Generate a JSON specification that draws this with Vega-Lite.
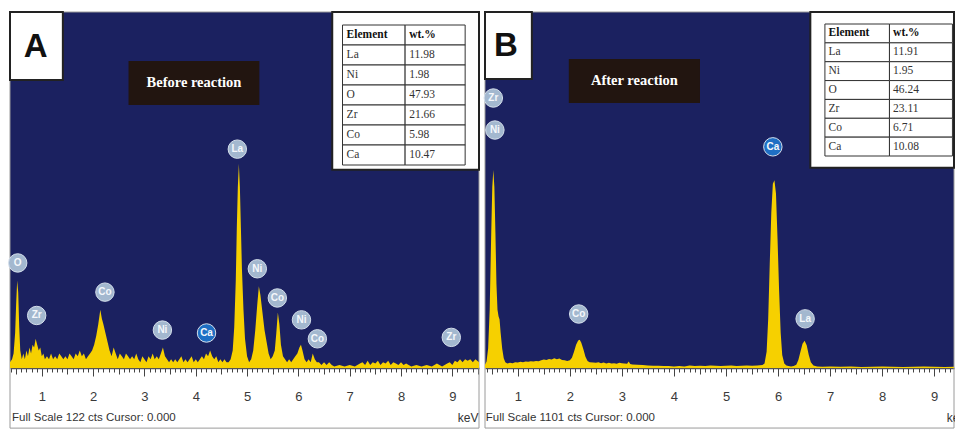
{
  "$schema": "https://vega.github.io/schema/vega-lite/v6.json",
  "autosize": {"type": "pad"},
  "padding": {"left": 6, "top": 11, "right": 0, "bottom": 0},
  "background": "white",
  "spacing": 6,
  "bounds": "flush",
  "config": {
    "view": {"stroke": null, "fill": "#1b2160"},
    "axisY": {"disable": true}
  },
  "datasets": {
    "specA": [
      {"kev":0.38,"cts":2},{"kev":0.42,"cts":3},{"kev":0.45,"cts":5},{"kev":0.48,"cts":12},{"kev":0.50,"cts":22},{"kev":0.52,"cts":30},{"kev":0.54,"cts":26},{"kev":0.56,"cts":14},{"kev":0.58,"cts":6},{"kev":0.61,"cts":3},{"kev":0.64,"cts":5},{"kev":0.67,"cts":3},{"kev":0.70,"cts":6},{"kev":0.73,"cts":4},{"kev":0.76,"cts":7},{"kev":0.79,"cts":5},{"kev":0.82,"cts":8},{"kev":0.85,"cts":7},{"kev":0.88,"cts":10},{"kev":0.91,"cts":8},{"kev":0.94,"cts":6},{"kev":0.97,"cts":7},
      {"kev":1.00,"cts":4},{"kev":1.03,"cts":5},{"kev":1.06,"cts":3},{"kev":1.10,"cts":4},{"kev":1.14,"cts":3},{"kev":1.18,"cts":5},{"kev":1.22,"cts":3},{"kev":1.26,"cts":4},{"kev":1.30,"cts":3},{"kev":1.34,"cts":5},{"kev":1.38,"cts":4},{"kev":1.42,"cts":3},{"kev":1.46,"cts":4},{"kev":1.50,"cts":3},{"kev":1.54,"cts":5},{"kev":1.58,"cts":4},{"kev":1.62,"cts":3},{"kev":1.66,"cts":5},{"kev":1.70,"cts":4},{"kev":1.74,"cts":6},{"kev":1.78,"cts":4},{"kev":1.82,"cts":5},{"kev":1.86,"cts":3},{"kev":1.90,"cts":4},{"kev":1.94,"cts":5},{"kev":1.98,"cts":6},
      {"kev":2.02,"cts":8},{"kev":2.06,"cts":11},{"kev":2.10,"cts":15},{"kev":2.14,"cts":20},{"kev":2.17,"cts":17},{"kev":2.20,"cts":15},{"kev":2.24,"cts":12},{"kev":2.28,"cts":9},{"kev":2.32,"cts":6},{"kev":2.36,"cts":4},{"kev":2.40,"cts":7},{"kev":2.44,"cts":5},{"kev":2.48,"cts":3},{"kev":2.52,"cts":5},{"kev":2.56,"cts":4},{"kev":2.60,"cts":3},{"kev":2.64,"cts":5},{"kev":2.68,"cts":4},{"kev":2.72,"cts":3},{"kev":2.76,"cts":4},{"kev":2.80,"cts":3},{"kev":2.84,"cts":5},{"kev":2.88,"cts":3},{"kev":2.92,"cts":2},{"kev":2.96,"cts":4},
      {"kev":3.00,"cts":3},{"kev":3.04,"cts":2},{"kev":3.08,"cts":4},{"kev":3.12,"cts":3},{"kev":3.16,"cts":5},{"kev":3.20,"cts":3},{"kev":3.24,"cts":4},{"kev":3.28,"cts":3},{"kev":3.32,"cts":5},{"kev":3.36,"cts":7},{"kev":3.40,"cts":4},{"kev":3.44,"cts":3},{"kev":3.48,"cts":2},{"kev":3.52,"cts":3},{"kev":3.56,"cts":2},{"kev":3.60,"cts":3},{"kev":3.64,"cts":2},{"kev":3.68,"cts":3},{"kev":3.72,"cts":4},{"kev":3.76,"cts":2},{"kev":3.80,"cts":3},{"kev":3.84,"cts":2},{"kev":3.88,"cts":3},{"kev":3.92,"cts":4},{"kev":3.96,"cts":2},
      {"kev":4.00,"cts":3},{"kev":4.04,"cts":2},{"kev":4.08,"cts":3},{"kev":4.12,"cts":4},{"kev":4.16,"cts":3},{"kev":4.20,"cts":5},{"kev":4.24,"cts":4},{"kev":4.28,"cts":6},{"kev":4.32,"cts":4},{"kev":4.36,"cts":3},{"kev":4.40,"cts":4},{"kev":4.44,"cts":2},{"kev":4.48,"cts":3},{"kev":4.52,"cts":2},{"kev":4.56,"cts":3},{"kev":4.60,"cts":2},{"kev":4.64,"cts":2},{"kev":4.68,"cts":3},{"kev":4.72,"cts":6},{"kev":4.75,"cts":14},{"kev":4.78,"cts":30},{"kev":4.80,"cts":48},{"kev":4.82,"cts":62},{"kev":4.84,"cts":70},{"kev":4.86,"cts":62},{"kev":4.88,"cts":48},{"kev":4.90,"cts":34},{"kev":4.93,"cts":20},{"kev":4.96,"cts":10},
      {"kev":5.00,"cts":4},{"kev":5.04,"cts":2},{"kev":5.08,"cts":3},{"kev":5.12,"cts":6},{"kev":5.16,"cts":13},{"kev":5.20,"cts":22},{"kev":5.23,"cts":28},{"kev":5.26,"cts":25},{"kev":5.30,"cts":19},{"kev":5.34,"cts":13},{"kev":5.38,"cts":9},{"kev":5.42,"cts":5},{"kev":5.46,"cts":3},{"kev":5.50,"cts":4},{"kev":5.54,"cts":6},{"kev":5.57,"cts":12},{"kev":5.60,"cts":19},{"kev":5.63,"cts":15},{"kev":5.66,"cts":8},{"kev":5.70,"cts":4},{"kev":5.74,"cts":3},{"kev":5.78,"cts":2},{"kev":5.82,"cts":3},{"kev":5.86,"cts":2},{"kev":5.90,"cts":3},{"kev":5.94,"cts":4},{"kev":5.98,"cts":5},
      {"kev":6.02,"cts":7},{"kev":6.05,"cts":8},{"kev":6.08,"cts":6},{"kev":6.12,"cts":3},{"kev":6.16,"cts":2},{"kev":6.20,"cts":3},{"kev":6.24,"cts":2},{"kev":6.28,"cts":5},{"kev":6.32,"cts":3},{"kev":6.36,"cts":2},{"kev":6.40,"cts":2},{"kev":6.45,"cts":1},{"kev":6.50,"cts":2},{"kev":6.55,"cts":1},{"kev":6.60,"cts":2},{"kev":6.65,"cts":1},{"kev":6.70,"cts":0.5},{"kev":6.80,"cts":1},{"kev":6.90,"cts":0.5},
      {"kev":7.00,"cts":1},{"kev":7.10,"cts":0.5},{"kev":7.20,"cts":1.5},{"kev":7.25,"cts":2},{"kev":7.30,"cts":1},{"kev":7.35,"cts":2.5},{"kev":7.40,"cts":1},{"kev":7.45,"cts":2},{"kev":7.50,"cts":1.5},{"kev":7.55,"cts":2.5},{"kev":7.60,"cts":1},{"kev":7.65,"cts":2},{"kev":7.70,"cts":1.5},{"kev":7.75,"cts":2.5},{"kev":7.80,"cts":1},{"kev":7.85,"cts":2},{"kev":7.90,"cts":1.5},{"kev":7.95,"cts":1},
      {"kev":8.00,"cts":2},{"kev":8.05,"cts":1},{"kev":8.10,"cts":1.5},{"kev":8.15,"cts":1},{"kev":8.20,"cts":0.5},{"kev":8.30,"cts":1},{"kev":8.40,"cts":0.5},{"kev":8.50,"cts":1},{"kev":8.60,"cts":0.5},{"kev":8.70,"cts":1.5},{"kev":8.80,"cts":0.5},{"kev":8.90,"cts":1.5},{"kev":8.95,"cts":2},
      {"kev":9.00,"cts":1},{"kev":9.05,"cts":2.5},{"kev":9.10,"cts":2},{"kev":9.15,"cts":3},{"kev":9.20,"cts":2},{"kev":9.25,"cts":3},{"kev":9.30,"cts":2.5},{"kev":9.35,"cts":3},{"kev":9.40,"cts":2},{"kev":9.45,"cts":3},{"kev":9.52,"cts":2}
    ],
    "specB": [
      {"kev":0.37,"cts":10},{"kev":0.40,"cts":20},{"kev":0.43,"cts":60},{"kev":0.46,"cts":180},{"kev":0.49,"cts":420},{"kev":0.51,"cts":560},{"kev":0.53,"cts":612},{"kev":0.55,"cts":560},{"kev":0.57,"cts":420},{"kev":0.59,"cts":260},{"kev":0.61,"cts":180},{"kev":0.63,"cts":160},{"kev":0.65,"cts":150},{"kev":0.67,"cts":110},{"kev":0.70,"cts":60},{"kev":0.73,"cts":30},{"kev":0.76,"cts":18},{"kev":0.80,"cts":14},{"kev":0.85,"cts":16},{"kev":0.90,"cts":15},{"kev":0.95,"cts":18},
      {"kev":1.00,"cts":17},{"kev":1.05,"cts":19},{"kev":1.10,"cts":18},{"kev":1.15,"cts":20},{"kev":1.20,"cts":19},{"kev":1.25,"cts":21},{"kev":1.30,"cts":20},{"kev":1.35,"cts":22},{"kev":1.40,"cts":21},{"kev":1.45,"cts":24},{"kev":1.50,"cts":26},{"kev":1.55,"cts":25},{"kev":1.60,"cts":28},{"kev":1.65,"cts":26},{"kev":1.70,"cts":30},{"kev":1.75,"cts":27},{"kev":1.80,"cts":29},{"kev":1.85,"cts":25},{"kev":1.90,"cts":24},{"kev":1.95,"cts":22},
      {"kev":2.00,"cts":24},{"kev":2.04,"cts":32},{"kev":2.08,"cts":50},{"kev":2.12,"cts":72},{"kev":2.16,"cts":85},{"kev":2.19,"cts":87},{"kev":2.22,"cts":78},{"kev":2.26,"cts":58},{"kev":2.30,"cts":35},{"kev":2.34,"cts":22},{"kev":2.38,"cts":18},{"kev":2.45,"cts":17},{"kev":2.50,"cts":16},{"kev":2.55,"cts":18},{"kev":2.60,"cts":15},{"kev":2.65,"cts":17},{"kev":2.70,"cts":14},{"kev":2.75,"cts":16},{"kev":2.80,"cts":14},{"kev":2.85,"cts":15},{"kev":2.90,"cts":13},{"kev":2.95,"cts":16},
      {"kev":3.00,"cts":15},{"kev":3.05,"cts":14},{"kev":3.10,"cts":13},{"kev":3.13,"cts":20},{"kev":3.16,"cts":12},{"kev":3.20,"cts":11},{"kev":3.30,"cts":10},{"kev":3.40,"cts":9},{"kev":3.50,"cts":8},{"kev":3.60,"cts":7},{"kev":3.70,"cts":7},{"kev":3.80,"cts":6},{"kev":3.90,"cts":6},
      {"kev":4.00,"cts":5},{"kev":4.10,"cts":6},{"kev":4.20,"cts":5},{"kev":4.30,"cts":8},{"kev":4.40,"cts":6},{"kev":4.50,"cts":7},{"kev":4.60,"cts":6},{"kev":4.70,"cts":8},{"kev":4.80,"cts":7},{"kev":4.90,"cts":6},
      {"kev":5.00,"cts":7},{"kev":5.10,"cts":8},{"kev":5.20,"cts":6},{"kev":5.30,"cts":7},{"kev":5.40,"cts":8},{"kev":5.50,"cts":7},{"kev":5.60,"cts":8},{"kev":5.70,"cts":9},{"kev":5.74,"cts":14},{"kev":5.78,"cts":50},{"kev":5.81,"cts":150},{"kev":5.84,"cts":320},{"kev":5.87,"cts":480},{"kev":5.90,"cts":570},{"kev":5.93,"cts":581},{"kev":5.96,"cts":540},{"kev":5.99,"cts":400},
      {"kev":6.02,"cts":240},{"kev":6.05,"cts":110},{"kev":6.08,"cts":40},{"kev":6.12,"cts":14},{"kev":6.16,"cts":8},{"kev":6.20,"cts":6},{"kev":6.25,"cts":5},{"kev":6.30,"cts":6},{"kev":6.35,"cts":10},{"kev":6.39,"cts":25},{"kev":6.43,"cts":50},{"kev":6.47,"cts":75},{"kev":6.51,"cts":84},{"kev":6.55,"cts":70},{"kev":6.59,"cts":40},{"kev":6.63,"cts":18},{"kev":6.68,"cts":8},{"kev":6.75,"cts":5},{"kev":6.85,"cts":4},
      {"kev":7.00,"cts":5},{"kev":7.20,"cts":4},{"kev":7.40,"cts":5},{"kev":7.60,"cts":3},{"kev":7.80,"cts":4},{"kev":8.00,"cts":5},{"kev":8.20,"cts":4},{"kev":8.40,"cts":3},{"kev":8.60,"cts":4},{"kev":8.80,"cts":5},{"kev":9.00,"cts":4},{"kev":9.20,"cts":3},{"kev":9.38,"cts":4}
    ],
    "labA": [
      {"el":"O","kev":0.53,"cts":36},{"el":"Zr","kev":0.9,"cts":18},{"el":"Co","kev":2.23,"cts":26},{"el":"Ni","kev":3.35,"cts":13},{"el":"Ca","kev":4.21,"cts":12},{"el":"La","kev":4.81,"cts":75},{"el":"Ni","kev":5.2,"cts":34},{"el":"Co","kev":5.59,"cts":24},{"el":"Ni","kev":6.06,"cts":16.5},{"el":"Co","kev":6.37,"cts":10},{"el":"Zr","kev":8.98,"cts":10.5}
    ],
    "labB": [
      {"el":"Zr","kev":0.53,"cts":835},{"el":"Ni","kev":0.56,"cts":736},{"el":"Co","kev":2.17,"cts":167},{"el":"Ca","kev":5.9,"cts":684},{"el":"La","kev":6.52,"cts":152}
    ],
    "tabA": [
      {"el":"Element","wt":"wt.%"},{"el":"La","wt":"11.98"},{"el":"Ni","wt":"1.98"},{"el":"O","wt":"47.93"},{"el":"Zr","wt":"21.66"},{"el":"Co","wt":"5.98"},{"el":"Ca","wt":"10.47"}
    ],
    "tabB": [
      {"el":"Element","wt":"wt.%"},{"el":"La","wt":"11.91"},{"el":"Ni","wt":"1.95"},{"el":"O","wt":"46.24"},{"el":"Zr","wt":"23.11"},{"el":"Co","wt":"6.71"},{"el":"Ca","wt":"10.08"}
    ]
  },
  "hconcat": [
    {
      "width": 469, "height": 356,
      "resolve": {"scale": {"y": "independent"}},
      "layer": [
        {
          "layer": [
            {"data": {"values": [{}]}, "mark": {"type": "rect", "filled": false, "stroke": "#9a9a9a", "strokeWidth": 1},
             "encoding": {"x": {"datum": 0.38}, "x2": {"datum": 9.52}, "y": {"datum": -20.6}, "y2": {"datum": 122}}},
            {"data": {"name": "specA"}, "mark": {"type": "area", "color": "#f6d000", "interpolate": "linear"},
             "encoding": {
               "x": {"field": "kev", "type": "quantitative", "scale": {"domain": [0.38, 9.52], "nice": false, "zero": false},
                 "axis": {"title": null, "grid": false, "tickCount": 100, "labelOverlap": false, "labelBound": false, "labelFlush": false,
                   "labelExpr": "abs(datum.value - round(datum.value)) < 0.001 ? format(datum.value, 'd') : ''",
                   "tickSize": {"condition": [{"test": "abs(datum.value - round(datum.value)) < 0.001", "value": 8}, {"test": "abs(datum.value*2 - round(datum.value*2)) < 0.001", "value": 6}], "value": 4},
                   "tickColor": "#444", "tickWidth": 1, "domainColor": "#555", "domainWidth": 1.5,
                   "labelFont": "Liberation Sans Narrow, Liberation Sans, sans-serif", "labelFontSize": 13, "labelColor": "#3a3a3a", "labelPadding": 14}},
               "y": {"field": "cts", "type": "quantitative", "scale": {"domain": [0, 122], "nice": false}, "axis": null}
             }},
            {"data": {"name": "labA"}, "mark": {"type": "point", "filled": true, "shape": "circle", "size": 340, "opacity": 1, "stroke": "#d5dfeb", "strokeWidth": 1},
             "encoding": {"x": {"field": "kev", "type": "quantitative"}, "y": {"field": "cts", "type": "quantitative"},
               "color": {"condition": {"test": "datum.el === 'Ca'", "value": "#1f6fc4"}, "value": "#a3b8cf"}}},
            {"data": {"name": "labA"}, "mark": {"type": "text", "fontSize": 10, "fontWeight": "bold", "font": "Liberation Sans", "color": "#f4f7fb"},
             "encoding": {"x": {"field": "kev", "type": "quantitative"}, "y": {"field": "cts", "type": "quantitative"}, "text": {"field": "el"}}},
            {"data": {"values": [{}]}, "mark": {"type": "rect", "fill": "white", "stroke": "#222", "strokeWidth": 2},
             "encoding": {"x": {"datum": 0.38}, "x2": {"datum": 1.41}, "y": {"datum": 98.7}, "y2": {"datum": 122}}},
            {"data": {"values": [{}]}, "mark": {"type": "text", "text": "A", "font": "Liberation Sans", "fontWeight": "bold", "fontSize": 33, "color": "#111"},
             "encoding": {"x": {"datum": 0.88}, "y": {"datum": 110}}},
            {"data": {"values": [{}]}, "mark": {"type": "rect", "fill": "#221510"},
             "encoding": {"x": {"datum": 2.69}, "x2": {"datum": 5.24}, "y": {"datum": 90.1}, "y2": {"datum": 105.2}}},
            {"data": {"values": [{}]}, "mark": {"type": "text", "text": "Before reaction", "font": "Liberation Serif", "fontWeight": "bold", "fontSize": 14.5, "color": "white"},
             "encoding": {"x": {"datum": 3.965}, "y": {"datum": 97.6}}},
            {"data": {"values": [{}]}, "mark": {"type": "rect", "fill": "white", "stroke": "#222", "strokeWidth": 2},
             "encoding": {"x": {"datum": 6.66}, "x2": {"datum": 9.52}, "y": {"datum": 67.9}, "y2": {"datum": 122}}},
            {"data": {"values": [{}]}, "mark": {"type": "text", "text": "Full Scale 122 cts Cursor: 0.000", "align": "left", "font": "Liberation Sans Narrow, Liberation Sans, sans-serif", "fontSize": 11.5, "color": "#333"},
             "encoding": {"x": {"datum": 0.42}, "y": {"datum": -17.1}}},
            {"data": {"values": [{}]}, "mark": {"type": "text", "text": "keV", "align": "right", "font": "Liberation Sans Narrow, Liberation Sans, sans-serif", "fontSize": 12, "color": "#333"},
             "encoding": {"x": {"datum": 9.51}, "y": {"datum": -17.1}}}
          ]
        },
        {
          "data": {"name": "tabA"},
          "layer": [
            {"mark": {"type": "rect", "fill": "white", "stroke": "#333", "strokeWidth": 1},
             "encoding": {"x": {"datum": 6.86}, "x2": {"datum": 8.08},
               "y": {"field": "el", "type": "nominal", "sort": null, "axis": null, "scale": {"domain": ["Element","La","Ni","O","Zr","Co","Ca"], "range": [13, 153], "paddingInner": 0, "paddingOuter": 0}}}},
            {"mark": {"type": "rect", "fill": "white", "stroke": "#333", "strokeWidth": 1},
             "encoding": {"x": {"datum": 8.08}, "x2": {"datum": 9.25}, "y": {"field": "el", "type": "nominal", "sort": null, "axis": null}}},
            {"transform": [{"filter": "datum.el === 'Element'"}],
             "layer": [
               {"mark": {"type": "text", "align": "left", "font": "Liberation Serif", "fontWeight": "bold", "fontSize": 11.5, "color": "#111"},
                "encoding": {"x": {"datum": 6.94}, "y": {"field": "el", "type": "nominal", "sort": null, "axis": null}, "text": {"field": "el"}}},
               {"mark": {"type": "text", "align": "left", "font": "Liberation Serif", "fontWeight": "bold", "fontSize": 11.5, "color": "#111"},
                "encoding": {"x": {"datum": 8.16}, "y": {"field": "el", "type": "nominal", "sort": null, "axis": null}, "text": {"field": "wt"}}}
             ]},
            {"transform": [{"filter": "datum.el !== 'Element'"}],
             "layer": [
               {"mark": {"type": "text", "align": "left", "font": "Liberation Serif", "fontSize": 11.5, "color": "#333"},
                "encoding": {"x": {"datum": 6.94}, "y": {"field": "el", "type": "nominal", "sort": null, "axis": null}, "text": {"field": "el"}}},
               {"mark": {"type": "text", "align": "left", "font": "Liberation Serif", "fontSize": 11.5, "color": "#333"},
                "encoding": {"x": {"datum": 8.16}, "y": {"field": "el", "type": "nominal", "sort": null, "axis": null}, "text": {"field": "wt"}}}
             ]}
          ]
        }
      ]
    },
    {
      "width": 469, "height": 356,
      "resolve": {"scale": {"y": "independent"}},
      "layer": [
        {
          "layer": [
            {"data": {"values": [{}]}, "mark": {"type": "rect", "filled": false, "stroke": "#9a9a9a", "strokeWidth": 1},
             "encoding": {"x": {"datum": 0.37}, "x2": {"datum": 9.38}, "y": {"datum": -185.7}, "y2": {"datum": 1101}}},
            {"data": {"name": "specB"}, "mark": {"type": "area", "color": "#f6d000", "interpolate": "linear"},
             "encoding": {
               "x": {"field": "kev", "type": "quantitative", "scale": {"domain": [0.37, 9.38], "nice": false, "zero": false},
                 "axis": {"title": null, "grid": false, "tickCount": 100, "labelOverlap": false, "labelBound": false, "labelFlush": false,
                   "labelExpr": "abs(datum.value - round(datum.value)) < 0.001 ? format(datum.value, 'd') : ''",
                   "tickSize": {"condition": [{"test": "abs(datum.value - round(datum.value)) < 0.001", "value": 8}, {"test": "abs(datum.value*2 - round(datum.value*2)) < 0.001", "value": 6}], "value": 4},
                   "tickColor": "#444", "tickWidth": 1, "domainColor": "#555", "domainWidth": 1.5,
                   "labelFont": "Liberation Sans Narrow, Liberation Sans, sans-serif", "labelFontSize": 13, "labelColor": "#3a3a3a", "labelPadding": 14}},
               "y": {"field": "cts", "type": "quantitative", "scale": {"domain": [0, 1101], "nice": false}, "axis": null}
             }},
            {"data": {"name": "labB"}, "mark": {"type": "point", "filled": true, "shape": "circle", "size": 340, "opacity": 1, "stroke": "#d5dfeb", "strokeWidth": 1},
             "encoding": {"x": {"field": "kev", "type": "quantitative"}, "y": {"field": "cts", "type": "quantitative"},
               "color": {"condition": {"test": "datum.el === 'Ca'", "value": "#1f6fc4"}, "value": "#a3b8cf"}}},
            {"data": {"name": "labB"}, "mark": {"type": "text", "fontSize": 10, "fontWeight": "bold", "font": "Liberation Sans", "color": "#f4f7fb"},
             "encoding": {"x": {"field": "kev", "type": "quantitative"}, "y": {"field": "cts", "type": "quantitative"}, "text": {"field": "el"}}},
            {"data": {"values": [{}]}, "mark": {"type": "rect", "fill": "white", "stroke": "#222", "strokeWidth": 2},
             "encoding": {"x": {"datum": 0.37}, "x2": {"datum": 1.27}, "y": {"datum": 894}, "y2": {"datum": 1101}}},
            {"data": {"values": [{}]}, "mark": {"type": "text", "text": "B", "font": "Liberation Sans", "fontWeight": "bold", "fontSize": 33, "color": "#111"},
             "encoding": {"x": {"datum": 0.77}, "y": {"datum": 995}}},
            {"data": {"values": [{}]}, "mark": {"type": "rect", "fill": "#221510"},
             "encoding": {"x": {"datum": 1.98}, "x2": {"datum": 4.5}, "y": {"datum": 819.6}, "y2": {"datum": 955.7}}},
            {"data": {"values": [{}]}, "mark": {"type": "text", "text": "After reaction", "font": "Liberation Serif", "fontWeight": "bold", "fontSize": 14.5, "color": "white"},
             "encoding": {"x": {"datum": 3.24}, "y": {"datum": 888}}},
            {"data": {"values": [{}]}, "mark": {"type": "rect", "fill": "white", "stroke": "#222", "strokeWidth": 2},
             "encoding": {"x": {"datum": 6.62}, "x2": {"datum": 9.38}, "y": {"datum": 619}, "y2": {"datum": 1101}}},
            {"data": {"values": [{}]}, "mark": {"type": "text", "text": "Full Scale 1101 cts Cursor: 0.000", "align": "left", "font": "Liberation Sans Narrow, Liberation Sans, sans-serif", "fontSize": 11.5, "color": "#333"},
             "encoding": {"x": {"datum": 0.385}, "y": {"datum": -154.6}}},
            {"data": {"values": [{}]}, "mark": {"type": "text", "text": "keV", "align": "left", "font": "Liberation Sans Narrow, Liberation Sans, sans-serif", "fontSize": 12, "color": "#333"},
             "encoding": {"x": {"datum": 9.24}, "y": {"datum": -154.6}}}
          ]
        },
        {
          "data": {"name": "tabB"},
          "layer": [
            {"mark": {"type": "rect", "fill": "white", "stroke": "#333", "strokeWidth": 1},
             "encoding": {"x": {"datum": 6.9}, "x2": {"datum": 8.14},
               "y": {"field": "el", "type": "nominal", "sort": null, "axis": null, "scale": {"domain": ["Element","La","Ni","O","Zr","Co","Ca"], "range": [12, 144], "paddingInner": 0, "paddingOuter": 0}}}},
            {"mark": {"type": "rect", "fill": "white", "stroke": "#333", "strokeWidth": 1},
             "encoding": {"x": {"datum": 8.14}, "x2": {"datum": 9.35}, "y": {"field": "el", "type": "nominal", "sort": null, "axis": null}}},
            {"transform": [{"filter": "datum.el === 'Element'"}],
             "layer": [
               {"mark": {"type": "text", "align": "left", "font": "Liberation Serif", "fontWeight": "bold", "fontSize": 11.5, "color": "#111"},
                "encoding": {"x": {"datum": 6.97}, "y": {"field": "el", "type": "nominal", "sort": null, "axis": null}, "text": {"field": "el"}}},
               {"mark": {"type": "text", "align": "left", "font": "Liberation Serif", "fontWeight": "bold", "fontSize": 11.5, "color": "#111"},
                "encoding": {"x": {"datum": 8.21}, "y": {"field": "el", "type": "nominal", "sort": null, "axis": null}, "text": {"field": "wt"}}}
             ]},
            {"transform": [{"filter": "datum.el !== 'Element'"}],
             "layer": [
               {"mark": {"type": "text", "align": "left", "font": "Liberation Serif", "fontSize": 11.5, "color": "#333"},
                "encoding": {"x": {"datum": 6.97}, "y": {"field": "el", "type": "nominal", "sort": null, "axis": null}, "text": {"field": "el"}}},
               {"mark": {"type": "text", "align": "left", "font": "Liberation Serif", "fontSize": 11.5, "color": "#333"},
                "encoding": {"x": {"datum": 8.21}, "y": {"field": "el", "type": "nominal", "sort": null, "axis": null}, "text": {"field": "wt"}}}
             ]}
          ]
        }
      ]
    }
  ]
}
